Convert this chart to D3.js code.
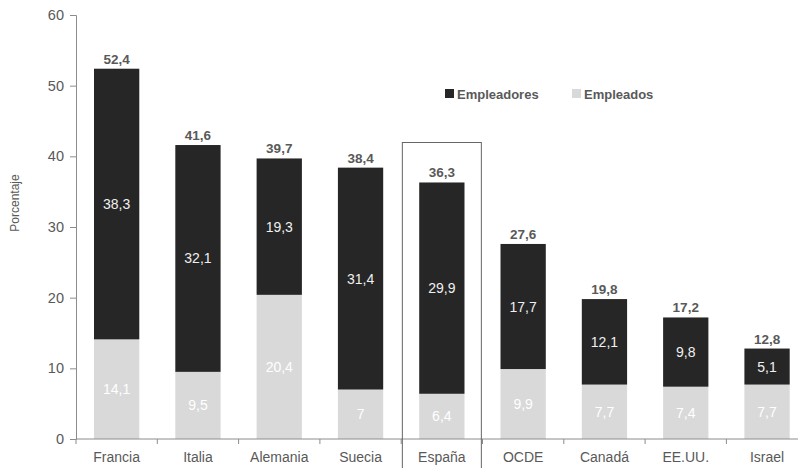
<!DOCTYPE html>
<html>
<head>
<meta charset="utf-8">
<script src="https://cdn.jsdelivr.net/npm/d3@7/dist/d3.min.js"></script>
<style>
  html, body { margin: 0; padding: 0; background: #fff; }
  svg { display: block; font-family: "Liberation Sans", Arial, sans-serif; }
</style>
</head>
<body>
<svg id="chart" width="798" height="468"></svg>
<script>
// Tasa de emprendimiento por país: empleadores y empleados (porcentaje)
const paises = ["Francia", "Italia", "Alemania", "Suecia", "España", "OCDE", "Canadá", "EE.UU.", "Israel"];
const empleados = [14.1, 9.5, 20.4, 7, 6.4, 9.9, 7.7, 7.4, 7.7];
const empleadores = [38.3, 32.1, 19.3, 31.4, 29.9, 17.7, 12.1, 9.8, 5.1];
const yTicks = [0, 10, 20, 30, 40, 50, 60];
const destacado = "España";

const colores = { empleadores: "#262626", empleados: "#d9d9d9" };
const textoGris = "#595959";
const ejeGris = "#8c8c8c";

const svg = d3.select("#chart");
const margenIzq = 76, margenSup = 15, base = 439;
const paso = 81.3;

const x = d3.scaleBand()
  .domain(paises)
  .range([margenIzq, margenIzq + paso * paises.length])
  .paddingInner(0.443)
  .paddingOuter(0.2215);

const y = d3.scaleLinear().domain([0, 60]).range([base, margenSup]);

const fmt = v => String(v).replace(".", ",");

const filas = paises.map((p, i) => ({
  pais: p,
  empleados: empleados[i],
  empleadores: empleadores[i],
  total: +(empleados[i] + empleadores[i]).toFixed(1)
}));

// Barras apiladas
const stack = d3.stack().keys(["empleados", "empleadores"]);
const series = stack(filas);

svg.append("g").selectAll("g")
  .data(series)
  .join("g")
  .attr("fill", s => colores[s.key])
  .selectAll("rect")
  .data(s => s.map(d => ({ d, key: s.key })))
  .join("rect")
  .attr("x", o => x(o.d.data.pais))
  .attr("width", x.bandwidth())
  .attr("y", o => y(o.d[1]))
  .attr("height", o => y(o.d[0]) - y(o.d[1]));

// Valores dentro de cada segmento
series.forEach(s => {
  svg.append("g").selectAll("text")
    .data(s)
    .join("text")
    .attr("x", d => x(d.data.pais) + x.bandwidth() / 2)
    .attr("y", d => (y(d[0]) + y(d[1])) / 2 + 5)
    .attr("text-anchor", "middle")
    .attr("font-size", 14)
    .attr("fill", s.key === "empleadores" ? "#f0f0f0" : "#ffffff")
    .text(d => fmt(d.data[s.key]));
});

// Totales sobre cada barra
svg.append("g").selectAll("text")
  .data(filas)
  .join("text")
  .attr("x", d => x(d.pais) + x.bandwidth() / 2)
  .attr("y", d => y(d.total) - 5)
  .attr("text-anchor", "middle")
  .attr("font-size", 13.5)
  .attr("font-weight", "bold")
  .attr("fill", textoGris)
  .text(d => fmt(d.total.toFixed(1)));

// Eje Y
const ejeY = svg.append("g")
  .attr("transform", `translate(${margenIzq},0)`)
  .call(d3.axisLeft(y).tickValues(yTicks).tickSize(6).tickPadding(6));
ejeY.select(".domain").attr("stroke", ejeGris);
ejeY.selectAll(".tick line").attr("stroke", ejeGris);
ejeY.selectAll(".tick text")
  .attr("font-size", 14.5)
  .attr("font-family", "Liberation Sans, Arial, sans-serif")
  .attr("fill", textoGris);

// Eje X con marcas entre categorías
const ejeX = svg.append("g").attr("transform", `translate(0,${base})`);
ejeX.append("line")
  .attr("x1", margenIzq).attr("x2", 798)
  .attr("stroke", ejeGris);
const bordes = d3.range(paises.length + 1).map(i => margenIzq + i * paso);
ejeX.selectAll("line.marca")
  .data(bordes)
  .join("line")
  .attr("class", "marca")
  .attr("x1", d => d).attr("x2", d => d)
  .attr("y1", 0).attr("y2", 5)
  .attr("stroke", ejeGris);
ejeX.selectAll("text")
  .data(paises)
  .join("text")
  .attr("x", d => x(d) + x.bandwidth() / 2)
  .attr("y", 23)
  .attr("text-anchor", "middle")
  .attr("font-size", 14)
  .attr("fill", textoGris)
  .text(d => d);

// Título del eje Y
svg.append("text")
  .attr("transform", "translate(19,203) rotate(-90)")
  .attr("text-anchor", "middle")
  .attr("font-size", 12)
  .attr("fill", textoGris)
  .text("Porcentaje");

// Recuadro que resalta España
const xd = x(destacado) + x.bandwidth() / 2;
svg.append("rect")
  .attr("x", xd - 39.5)
  .attr("y", 142.5)
  .attr("width", 79)
  .attr("height", 340)
  .attr("fill", "none")
  .attr("stroke", "#666")
  .attr("stroke-width", 1);

// Leyenda
const leyenda = [
  { key: "empleadores", label: "Empleadores", x: 445 },
  { key: "empleados", label: "Empleados", x: 572 }
];
const lg = svg.append("g").selectAll("g")
  .data(leyenda)
  .join("g")
  .attr("transform", d => `translate(${d.x},89)`);
lg.append("rect")
  .attr("width", 9).attr("height", 9)
  .attr("fill", d => colores[d.key]);
lg.append("text")
  .attr("x", 12).attr("y", 9.5)
  .attr("font-size", 13)
  .attr("font-weight", "bold")
  .attr("fill", textoGris)
  .text(d => d.label);
</script>
</body>
</html>
